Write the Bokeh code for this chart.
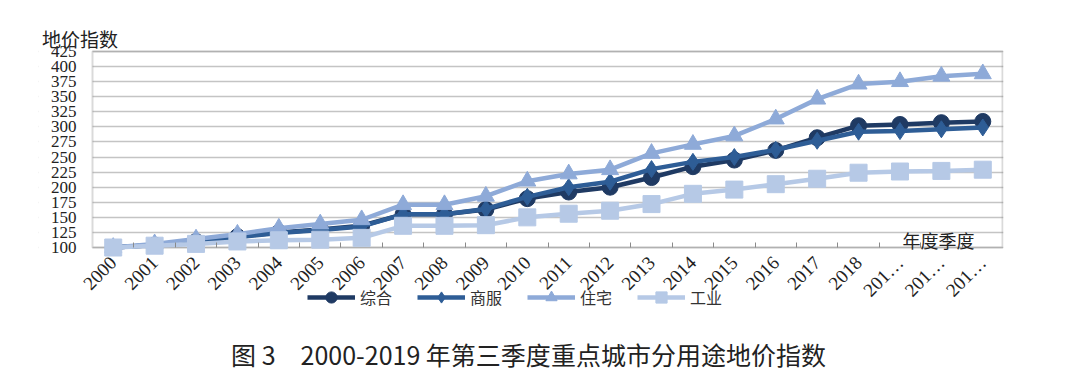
from bokeh.plotting import figure
from bokeh.models import (Range1d, FixedTicker, Legend, LegendItem, Label, LinearAxis,
                          BoxAnnotation)
from bokeh.embed import file_html
from bokeh.resources import INLINE

categories = ["2000", "2001", "2002", "2003", "2004", "2005", "2006", "2007", "2008",
              "2009", "2010", "2011", "2012", "2013", "2014", "2015", "2016", "2017",
              "2018", "201…", "201…", "201…"]
zonghe = [100, 104, 110, 118, 125, 130, 136, 155, 155, 163, 181, 192, 200, 216, 234, 245,
          261, 282, 302, 304, 307, 309]
shangfu = [100, 104, 110, 117, 124, 129, 135, 155, 155, 164, 184, 200, 209, 230, 242, 250,
           262, 277, 292, 293, 296, 299]
zhuzhai = [100, 106, 114, 122, 132, 139, 146, 171, 171, 185, 210, 222, 229, 256, 271, 285,
           313, 346, 371, 375, 384, 388]
gongye = [100, 103, 106, 110, 112, 113, 116, 136, 136, 137, 150, 156, 161, 172, 189, 196,
          205, 214, 224, 226, 227, 229]
series_names = ["综合", "商服", "住宅", "工业"]
y_ticks = list(range(100, 426, 25))
y_min, y_max = 100, 425
y_title = "地价指数"
x_title = "年度季度"
caption_text = "图 3\u30002000-2019 年第三季度重点城市分用途地价指数"

xs = list(range(len(categories)))

serif = "Liberation Serif"
cjk = "Noto Sans CJK SC"

# layout geometry (canvas pixels)
PLOT_L, PLOT_T = 92, 51      # plot area's top-left corner
FRAME_L, FRAME_T = 38, 26    # (extended) frame's top-left corner
PAD_L, PAD_T = PLOT_L - FRAME_L, PLOT_T - FRAME_T
PLOT_W, PLOT_H, PAD_B = 911, 196, 131
px_per_unit = PLOT_H / (y_max - y_min)
px_per_cat = PLOT_W / len(categories)
y_start = y_min - PAD_B / px_per_unit
y_end = y_max + PAD_T / px_per_unit
x_start = -0.5 - PAD_L / px_per_cat
x_end = len(categories) - 0.5

def x_at(cx):
    return -0.5 + (cx - PLOT_L) / px_per_cat

def y_at(cy):
    return y_max - (cy - PLOT_T) / px_per_unit

PLOT_B = PLOT_T + PLOT_H

p = figure(frame_width=PLOT_W + PAD_L, frame_height=PAD_T + PLOT_H + PAD_B,
           output_backend="svg", toolbar_location=None, x_axis_location=None, title=None,
           x_range=Range1d(x_start, x_end), y_range=Range1d(y_start, y_end),
           min_border_left=FRAME_L, min_border_top=FRAME_T, min_border_right=60,
           min_border_bottom=4)
p.background_fill_color = "white"
p.outline_line_color = None

# x axis with the category labels, drawn just below the plot's bottom edge
LABEL_GAP = 12
SHIFT = -40
xlab = LinearAxis(fixed_location=y_at(PLOT_B + LABEL_GAP - SHIFT),
                  ticker=FixedTicker(ticks=xs),
                  major_label_overrides={i: c for i, c in enumerate(categories)},
                  major_label_orientation=0.785398,
                  major_label_text_font=serif, major_label_text_font_size="19px",
                  major_label_text_color="#222222", major_label_standoff=SHIFT,
                  major_tick_line_color=None, major_tick_out=0, major_tick_in=0,
                  minor_tick_line_color=None, axis_line_color=None)
p.add_layout(xlab, "below")

# boundary tick marks at the bottom edge
xtick = LinearAxis(fixed_location=y_min,
                   ticker=FixedTicker(ticks=[], minor_ticks=[i - 0.5 for i in range(1, len(categories))]),
                   minor_tick_in=5, minor_tick_out=0, minor_tick_line_color="#8a8a8a",
                   minor_tick_line_width=1, major_tick_line_color=None, major_tick_out=0,
                   axis_line_color=None, major_label_text_font_size="0px")
p.add_layout(xtick, "below")

# y axis drawn at the plot's left edge
Y_GAP = 16
YSHIFT = -10
p.yaxis.fixed_location = x_at(PLOT_L - Y_GAP + YSHIFT)
p.yaxis.ticker = FixedTicker(ticks=y_ticks)
p.yaxis.major_label_text_font = serif
p.yaxis.major_label_text_font_size = "17px"
p.yaxis.major_label_text_color = "#222222"
p.yaxis.major_tick_line_color = None
p.yaxis.major_tick_out = 0
p.yaxis.major_tick_in = 0
p.yaxis.minor_tick_line_color = None
p.yaxis.minor_tick_out = 0
p.yaxis.axis_line_color = None
p.yaxis.major_label_standoff = YSHIFT

p.xgrid.grid_line_color = None
p.ygrid.ticker = FixedTicker(ticks=y_ticks)
p.ygrid.grid_line_color = "#c4c4c4"
p.ygrid.grid_line_width = 1.5

# keep grid lines out of the left padding
p.add_layout(BoxAnnotation(left=x_start, right=-0.5, bottom=y_start, top=y_end,
                           fill_color="white", fill_alpha=1, line_color=None,
                           level="underlay"))
# plot area border
p.add_layout(BoxAnnotation(left=-0.5, right=x_end - 1 / px_per_cat,
                           bottom=y_min, top=y_max, fill_alpha=0,
                           line_color="#858585", line_width=2, level="underlay"))

colors = ["#1f3a63", "#2e5d96", "#8eaad8", "#b6c9e6"]
markers = ["circle", "diamond", "triangle", "square"]
sizes = [16, 17, 17, 17]
data = [zonghe, shangfu, zhuzhai, gongye]

items = []
for name, vals, col, mk, sz in zip(series_names, data, colors, markers, sizes):
    l = p.line(xs, vals, line_color=col, line_width=4.5)
    s = p.scatter(xs, vals, marker=mk, size=sz, fill_color=col, line_color=col)
    items.append(LegendItem(label=name, renderers=[l, s]))

legend = Legend(items=items, orientation="horizontal",
                location=(PAD_L + 215, PAD_B - 64),
                glyph_width=48, glyph_height=28, label_height=28, label_standoff=5,
                spacing=25, padding=0, margin=0, border_line_color=None,
                background_fill_alpha=0, label_text_font=cjk, label_text_font_size="16px",
                label_text_color="#333333")
p.add_layout(legend, "center")

p.add_layout(Label(x=x_at(79.5), y=y_at(38), text=y_title,
                   text_font=cjk, text_font_size="19px", text_color="#222222",
                   text_align="center", text_baseline="middle"))
p.add_layout(Label(x=x_at(938), y=y_at(PLOT_B - 8), text=x_title,
                   text_font=cjk, text_font_size="18px", text_color="#222222",
                   text_align="center", text_baseline="middle"))
p.add_layout(Label(x=x_at(528), y=y_at(PLOT_B + 106), text=caption_text,
                   text_font=cjk, text_font_size="25px", text_color="#222222",
                   text_align="center", text_baseline="middle"))

open("out.html", "w").write(file_html(p, INLINE))
